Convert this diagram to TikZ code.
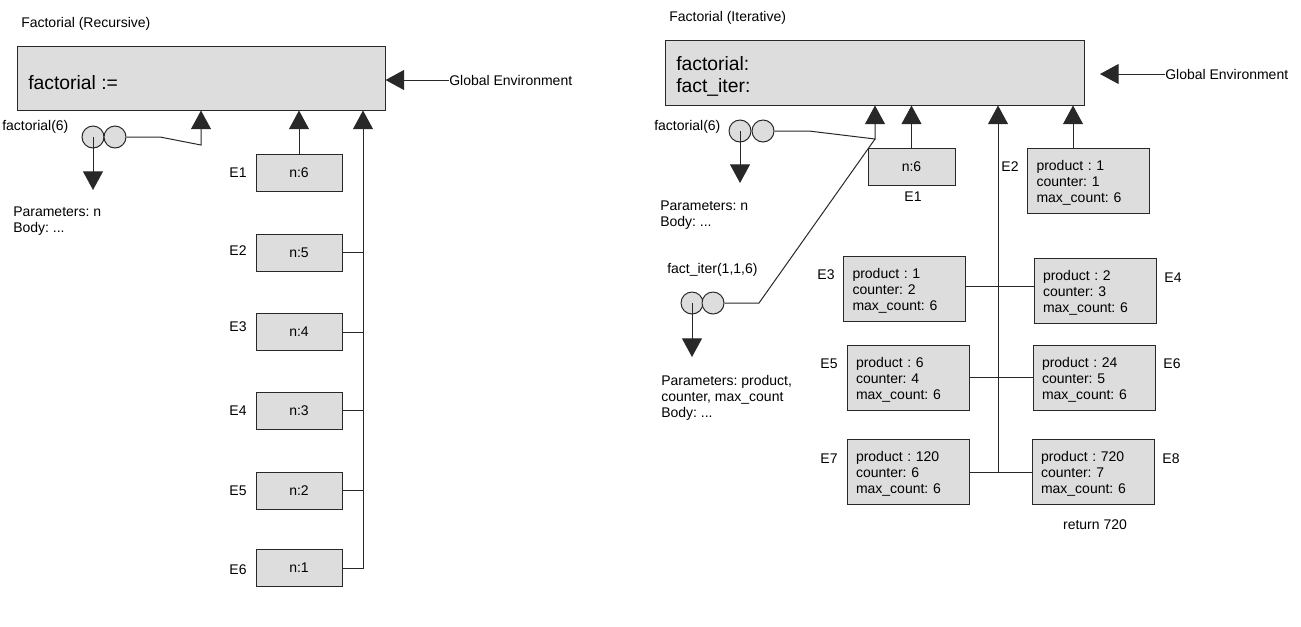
\documentclass[tikz,border=0pt]{standalone}
\usepackage{fontspec}
\setmainfont{Liberation Sans}
\usetikzlibrary{arrows.meta}
\definecolor{boxfill}{RGB}{221,221,221}
\definecolor{linec}{RGB}{40,40,40}
\frenchspacing
\newcommand{\toppad}{\rule{0pt}{11pt}}
\begin{document}
\begin{tikzpicture}[x=0.75pt,y=-0.75pt,
  ln/.style={draw=linec, line width=0.75pt},
  arr/.style={ln, -{Triangle[length=14pt,width=15pt]}},
  small/.style={font=\fontsize{10.5}{12}\selectfont, inner sep=0pt},
  big/.style={font=\fontsize{14.5}{16.5}\selectfont, inner sep=0pt},
  gbox/.style={draw=linec, fill=boxfill, line width=0.75pt},
  ebox/.style={gbox, minimum width=64.5pt, minimum height=27.75pt, inner sep=0pt, font=\fontsize{10.5}{12}\selectfont},
  vbox/.style={gbox, minimum height=48.75pt, text width=78pt, inner xsep=6.75pt, inner ysep=0pt, align=left, font=\fontsize{10.5}{12}\selectfont},
  circ/.style={circle, draw=linec, fill=boxfill, line width=0.75pt, minimum size=16.5pt, inner sep=0pt}
]
\useasboundingbox (0,0) rectangle (1301,626);

% ---------------- Left: recursive ----------------
\node[small, anchor=west] (t1) at (21,24) {Factorial (Recursive)};
\node[gbox, minimum width=276pt, minimum height=48pt] (g1) at (201,78) {};
\node[big, anchor=west] (g1t) at (28,83) {factorial :=};
\node[small, anchor=west] (ge1) at (449,80) {Global Environment};
\draw[arr] (ge1.west) -- (g1.east |- ge1.west);

\node[small, anchor=west] (f1) at (2,127) {factorial(6)};
\node[circ] (c1) at (93,137) {};
\node[circ] (c2) at (115,137) {};
\coordinate (p1) at (93,190);
\draw[arr] (c1.center) -- (p1);
\coordinate (k1) at (160,137);
\coordinate (k2) at (201,145);
\draw[arr] (c2.east) -- (k1) -- (k2) -- (k2 |- g1.south);
\node[small, anchor=west, align=left, font=\fontsize{10.5}{12.5}\selectfont] (pb1) at (13,221) {Parameters: n\\Body: ...};

\node[ebox] (l1) at (299,172.5) {n:6};
\node[ebox] (l2) at (299,252.5) {n:5};
\node[ebox] (l3) at (299,332) {n:4};
\node[ebox] (l4) at (299,410.5) {n:3};
\node[ebox] (l5) at (299,490.5) {n:2};
\node[ebox] (l6) at (299,568) {n:1};
\node[small] (ll1) at (238,172.5) {E1};
\node[small] (ll2) at (238,251) {E2};
\node[small] (ll3) at (238,327) {E3};
\node[small] (ll4) at (238,411) {E4};
\node[small] (ll5) at (238,491) {E5};
\node[small] (ll6) at (238,570) {E6};

\draw[arr] (l1.north) -- (l1.north |- g1.south);
\coordinate (lt) at (363,0);
\draw[arr] (l6.east) -| (lt |- g1.south);
\foreach \i in {2,3,4,5} {\draw[ln] (l\i.east) -- (l\i.east -| lt);}

% ---------------- Right: iterative ----------------
\node[small, anchor=west] (t2) at (669,18) {Factorial (Iterative)};
\node[gbox, minimum width=314.25pt, minimum height=48.75pt] (g2) at (874.5,72.5) {};
\node[big, anchor=west, align=left] (g2t) at (676,76) {factorial:\\fact\_iter:};
\node[small, anchor=west] (ge2) at (1165,74) {Global Environment};
\coordinate (ge2tip) at (1100,74);
\draw[arr] (ge2.west) -- (ge2tip);

\node[small, anchor=west] (f2) at (654,127) {factorial(6)};
\node[circ] (c3) at (740,131) {};
\node[circ] (c4) at (763,131) {};
\coordinate (p2) at (740,183);
\draw[arr] (c3.center) -- (p2);
\coordinate (k3) at (809,131);
\coordinate (k4) at (875,139);
\draw[arr] (c4.east) -- (k3) -- (k4) -- (k4 |- g2.south);
\node[small, anchor=west, align=left] (pb2) at (660,215) {Parameters: n\\Body: ...};

\node[ebox, minimum width=65.25pt] (r1) at (911.5,166.5) {n:6};
\node[small] (rl1) at (913,197) {E1};
\draw[arr] (r1.north) -- (r1.north |- g2.south);

\node[small] (rl2) at (1010,167) {E2};
\node[vbox] (r2) at (1088.5,180.5) {\toppad product : 1\\counter: 1\\max\_count: 6};
\coordinate (rt2) at (1073,0);
\draw[arr] (rt2 |- r2.north) -- (rt2 |- g2.south);

\node[vbox] (r3) at (904.5,288.5) {\toppad product : 1\\counter: 2\\max\_count: 6};
\node[vbox] (r4) at (1095,290.5) {\toppad product : 2\\counter: 3\\max\_count: 6};
\node[vbox] (r5) at (908,377.5) {\toppad product : 6\\counter: 4\\max\_count: 6};
\node[vbox] (r6) at (1094,377.5) {\toppad product : 24\\counter: 5\\max\_count: 6};
\node[vbox] (r7) at (908,472) {\toppad product : 120\\counter: 6\\max\_count: 6};
\node[vbox] (r8) at (1093,472) {\toppad product : 720\\counter: 7\\max\_count: 6};
\node[small] (rl3) at (826,275) {E3};
\node[small] (rl4) at (1173,278) {E4};
\node[small] (rl5) at (829,364) {E5};
\node[small] (rl6) at (1172,364) {E6};
\node[small] (rl7) at (829,459) {E7};
\node[small] (rl8) at (1171,459) {E8};

\coordinate (rt) at (998,0);
\draw[ln] (r3.east |- 0,286) -- (r4.west |- 0,286);
\draw[ln] (r5.east) -- (r6.west);
\draw[ln] (r7.east) -- (r8.west);
\draw[arr] (rt |- r7.east) -- (rt |- g2.south);

\node[small, anchor=west] (fi) at (667,270) {fact\_iter(1,1,6)};
\node[circ] (c5) at (692,303) {};
\node[circ] (c6) at (713,303) {};
\coordinate (k5) at (759,303);
\draw[ln] (k4) -- (k5) -- (c6.east);
\coordinate (p3) at (692,357);
\draw[arr] (c5.center) -- (p3);
\node[small, anchor=west, align=left] (pb3) at (661,398) {Parameters: product,\\counter, max\_count\\Body: ...};

\node[small] (ret) at (1095,525) {return 720};
\end{tikzpicture}
\end{document}
